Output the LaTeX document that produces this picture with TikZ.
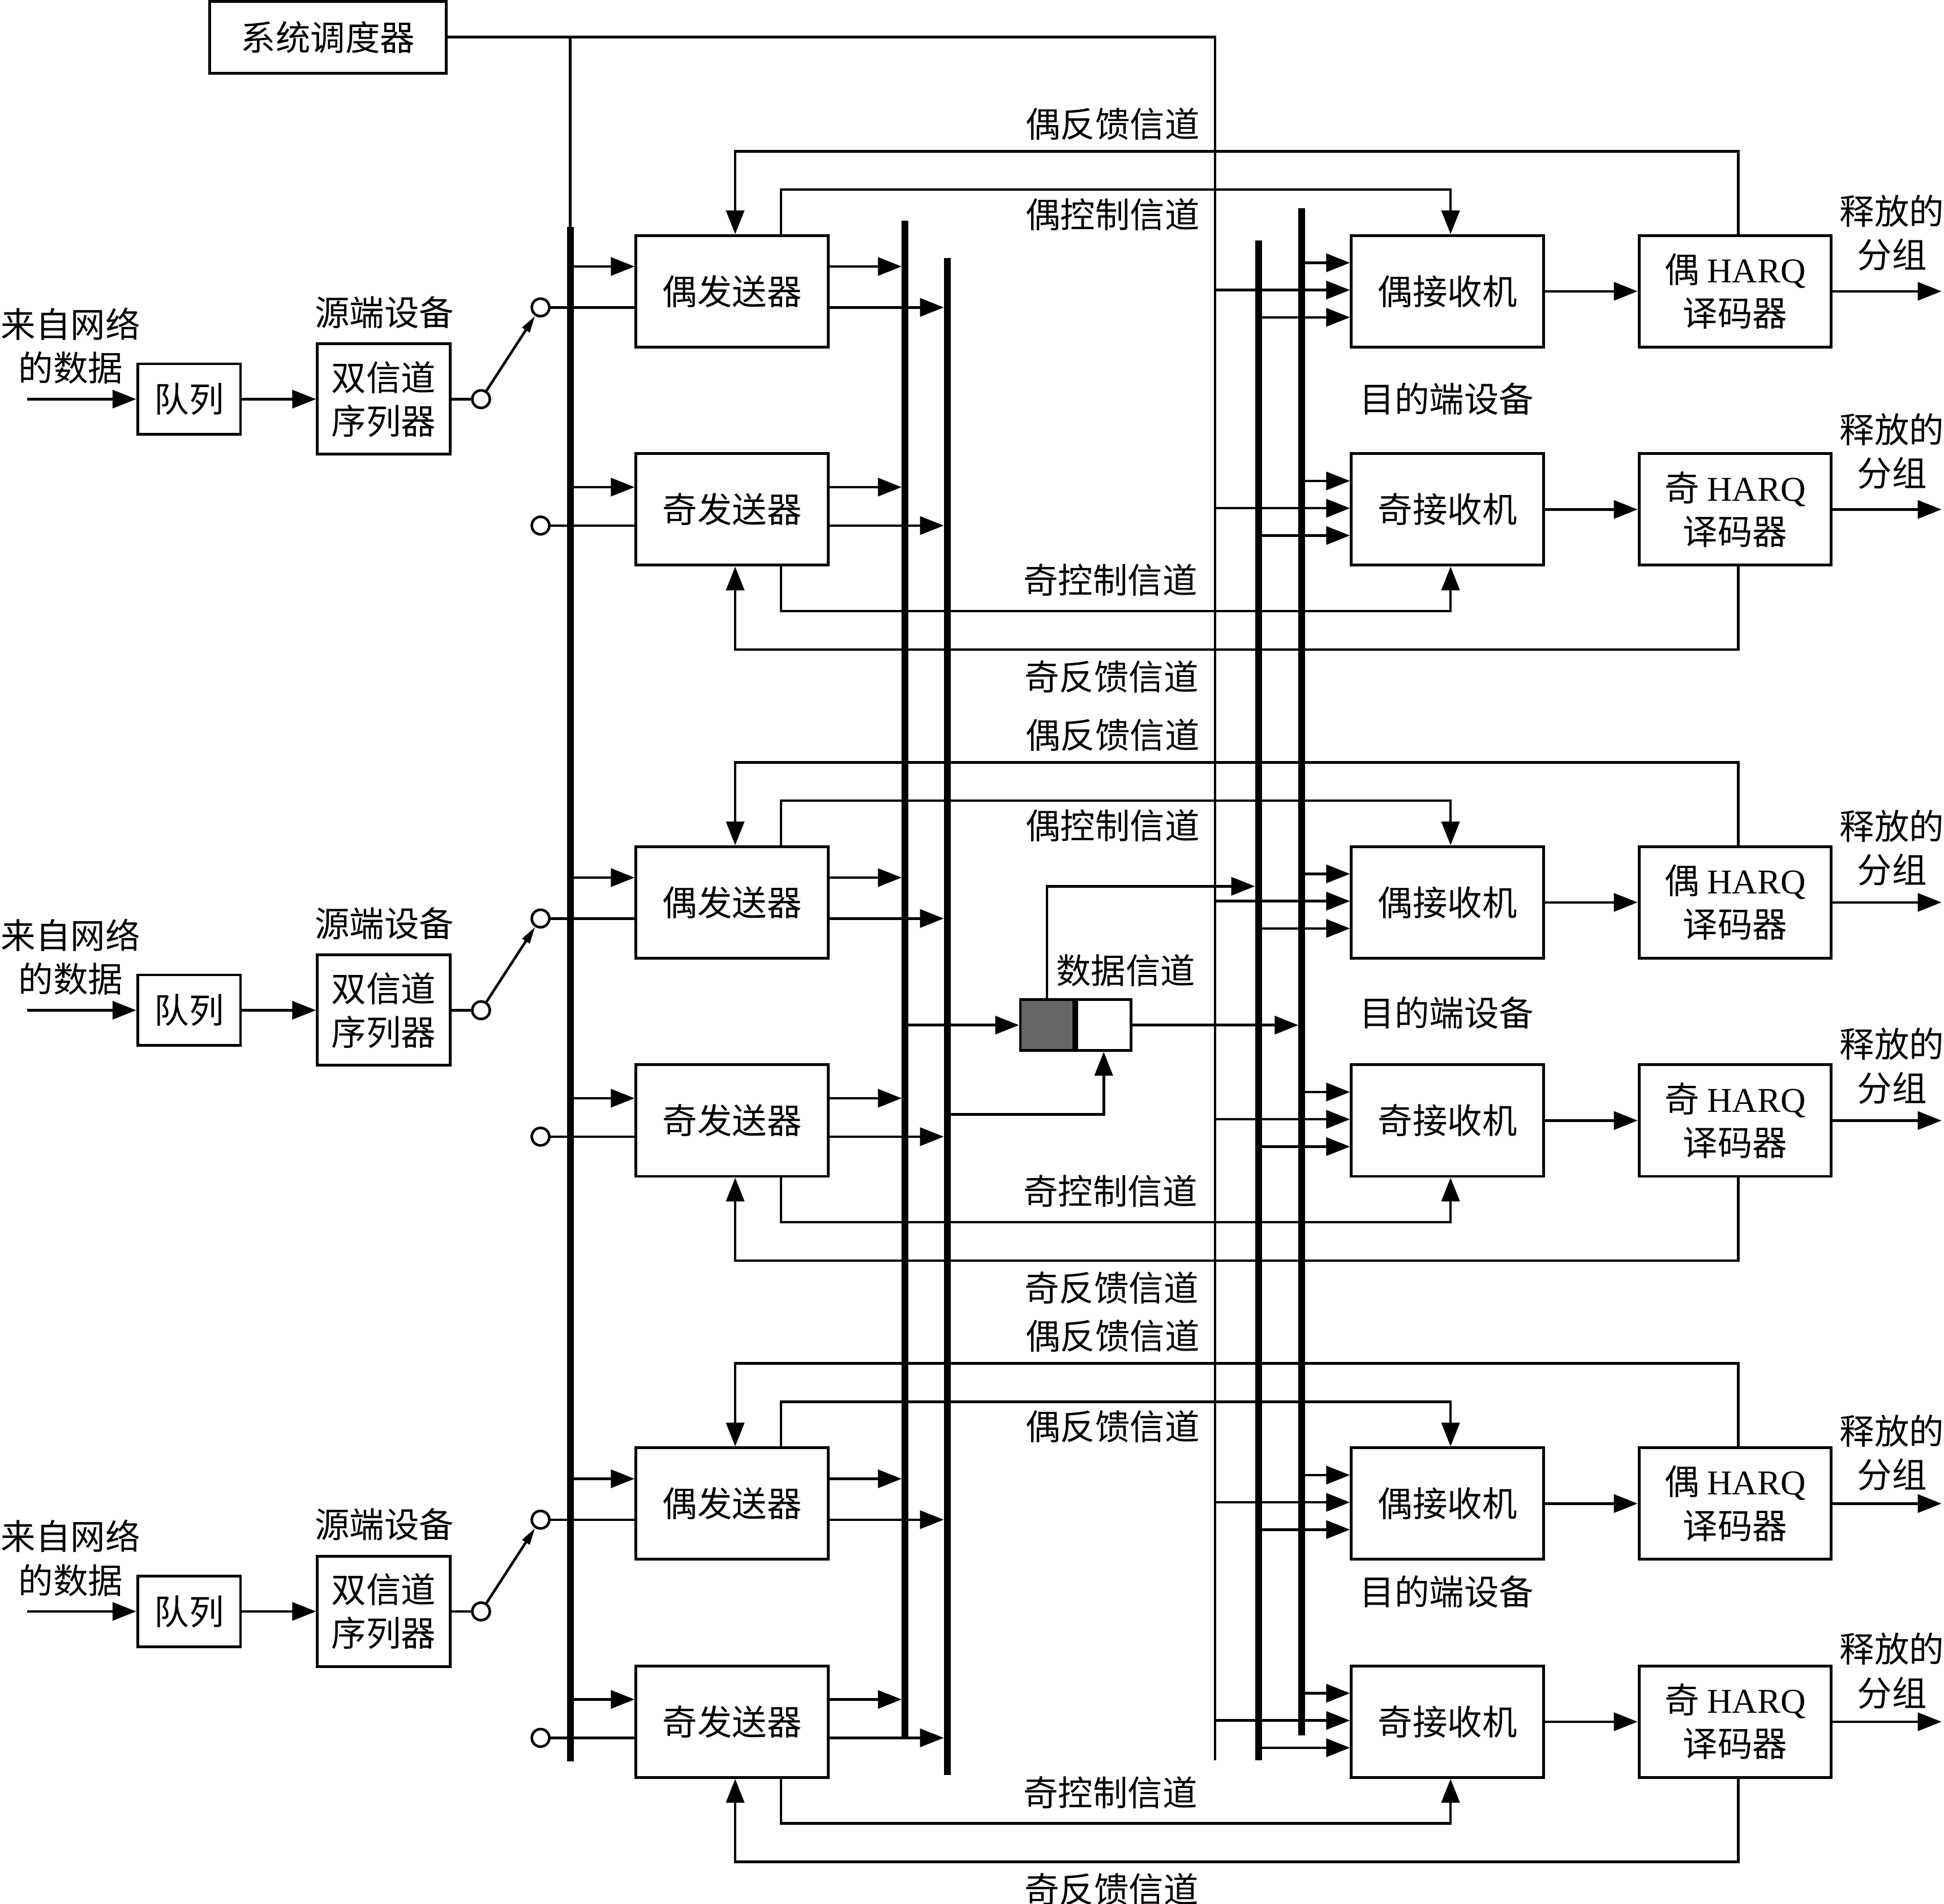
\documentclass[tikz,border=0pt]{standalone}
\usepackage{fontspec}
\setmainfont{Noto Sans CJK SC}
\newfontfamily\latf{Liberation Serif}
\usetikzlibrary{arrows.meta,calc}
\begin{document}
\begin{tikzpicture}[x=0.021907cm,y=-0.021907cm,
  every node/.style={font=\fontsize{17.5}{22}\selectfont, inner sep=0pt, align=center},
  box/.style={draw, line width=1.4pt, fill=white},
  tbox/.style={box, minimum width=3.396cm, minimum height=1.972cm},
  thin/.style={line width=1.3pt},
  bus/.style={line width=3.4pt},
  arr/.style={thin, -{Triangle[length=0.42cm,width=0.32cm]}},
  barr/.style={arr, shorten >=1.7pt},
  sw/.style={thin, -{Triangle[length=0.3cm,width=0.15cm]}},
  term/.style={circle, draw, line width=1.3pt, fill=white, minimum size=0.31cm},
  lbl/.style={anchor=east},
]
\useasboundingbox (0,0) rectangle (1568,1536);

% bus coordinates
\coordinate (b1t) at (460,183);  \coordinate (b1b) at (460,1421);
\coordinate (b2t) at (730,178);  \coordinate (b2b) at (730,1402);
\coordinate (b3t) at (764,208);  \coordinate (b3b) at (764,1432);
\coordinate (r1t) at (1015,194); \coordinate (r1b) at (1015,1420);
\coordinate (r2t) at (1050,168); \coordinate (r2b) at (1050,1400);
\coordinate (thb) at (980,1420);

% scheduler
\node[box, minimum width=4.184cm, minimum height=1.271cm] (sch) at (264.5,30) {系统调度器};
\draw[thin] (sch.east) -| (thb);
\draw[thin] (sch.east -| b1t) -- (b1t);

% buses
\draw[bus] (b1t) -- (b1b);
\draw[bus] (b2t) -- (b2b);
\draw[bus] (b3t) -- (b3b);
\draw[bus] (r1t) -- (r1b);
\draw[bus] (r2t) -- (r2b);

\foreach \g/\d/\ctl/\dl/\rl in {1/0/偶控制信道/322/0, 2/493/偶控制信道/817/496, 3/978/偶反馈信道/1284/984} {
  % source side
  \node (src\g) at (57,{279+\d}) {来自网络\\的数据};
  \node (sl\g) at (310,{252+\d}) {源端设备};
  \node[box, minimum width=1.818cm, minimum height=1.249cm] (Q\g) at (152.5,{322+\d}) {队列};
  \node[box, minimum width=2.344cm, minimum height=1.95cm] (S\g) at (309.5,{322+\d}) {双信道\\序列器};
  \coordinate (in\g) at (22,{322+\d});
  \draw[arr] (in\g) -- (Q\g);
  \draw[arr] (Q\g) -- (S\g);
  \node[term] (c0\g) at (388,{322+\d}) {};
  \node[term] (cE\g) at (436,{248+\d}) {};
  \node[term] (cO\g) at (436,{424+\d}) {};
  \draw[thin] (S\g) -- (c0\g);
  \draw[sw] (c0\g) -- (cE\g);

  % transmitters
  \node[tbox] (TE\g) at (590.5,{235+\d}) {偶发送器};
  \node[tbox] (TO\g) at (590.5,{411+\d}) {奇发送器};
  \draw[thin] (cE\g) -- (TE\g.west |- cE\g);
  \draw[thin] (cO\g) -- (TO\g.west |- cO\g);
  \draw[arr] (b1t |- 0,{215+\d}) -- (TE\g.west |- 0,{215+\d});
  \draw[arr] (b1t |- 0,{393+\d}) -- (TO\g.west |- 0,{393+\d});
  \draw[barr] (TE\g.east |- 0,{215+\d}) -- (b2t |- 0,{215+\d});
  \draw[barr] (TE\g.east |- cE\g) -- (b3t |- cE\g);
  \draw[barr] (TO\g.east |- 0,{393+\d}) -- (b2t |- 0,{393+\d});
  \draw[barr] (TO\g.east |- cO\g) -- (b3t |- cO\g);

  % receivers and decoders
  \node[tbox] (RE\g) at (1167.5,{235+\d}) {偶接收机};
  \node[tbox] (RO\g) at (1167.5,{411+\d}) {奇接收机};
  \node[tbox] (HE\g) at (1399.5,{235+\d}) {偶 {\latf HARQ}\\译码器};
  \node[tbox] (HO\g) at (1399.5,{411+\d}) {奇 {\latf HARQ}\\译码器};
  \node (dst\g) at (1167,{\dl}) {目的端设备};
  \draw[arr] (r2t |- 0,{212+\d}) -- (RE\g.west |- 0,{212+\d});
  \draw[arr] (thb |- 0,{234+\d}) -- (RE\g.west |- 0,{234+\d});
  \draw[arr] (r1t |- 0,{256+\d}) -- (RE\g.west |- 0,{256+\d});
  \draw[arr] (r2t |- 0,{388+\d}) -- (RO\g.west |- 0,{388+\d});
  \draw[arr] (thb |- 0,{410+\d}) -- (RO\g.west |- 0,{410+\d});
  \draw[arr] (r1t |- 0,{432+\d}) -- (RO\g.west |- 0,{432+\d});
  \draw[arr] (RE\g) -- (HE\g);
  \draw[arr] (RO\g) -- (HO\g);
  \coordinate (oE\g) at (1566,{235+\d});
  \coordinate (oO\g) at (1566,{411+\d});
  \draw[arr] (HE\g) -- (oE\g);
  \draw[arr] (HO\g) -- (oO\g);
  \node (relE\g) at (1526,{188+\rl}) {释放的\\分组};
  \node (relO\g) at (1526,{364+\rl}) {释放的\\分组};

  % control and feedback channels
  \draw[arr] (TE\g.north -| 630,0) -- (630,{153+\d}) -- (1170,{153+\d}) -- (RE\g.north -| 1170,0);
  \draw[arr] (HE\g.north -| 1402,0) -- (1402,{122+\d}) -- (593,{122+\d}) -- (TE\g.north -| 593,0);
  \draw[arr] (TO\g.south -| 630,0) -- (630,{493+\d}) -- (1170,{493+\d}) -- (RO\g.south -| 1170,0);
  \draw[arr] (HO\g.south -| 1402,0) -- (1402,{524+\d}) -- (593,{524+\d}) -- (TO\g.south -| 593,0);
  \node[lbl] (lfE\g) at (968,{100+\d}) {偶反馈信道};
  \node[lbl] (lcE\g) at (968,{173+\d}) {\ctl};
  \node[lbl] (lcO\g) at (966,{468+\d}) {奇控制信道};
  \node[lbl] (lfO\g) at (967,{546+\d}) {奇反馈信道};
}

% data channel
\node[draw, line width=1.4pt, fill=black!60, minimum width=0.942cm, minimum height=0.898cm] (dk) at (844.5,827) {};
\node[draw, line width=1.4pt, fill=white, minimum width=0.964cm, minimum height=0.898cm, anchor=west] (wh) at (dk.east) {};
\node (dl) at (908,783) {数据信道};
\draw[arr] (b2t |- dk) -- (dk.west);
\draw[barr] (wh.east) -- (r2t |- wh.east);
\draw[barr] (dk.north) -- (dk.north |- 0,715) -- (r1t |- 0,715);
\draw[arr] (b3t |- 0,899) -- (wh.south |- 0,899) -- (wh.south);
\end{tikzpicture}
\end{document}
